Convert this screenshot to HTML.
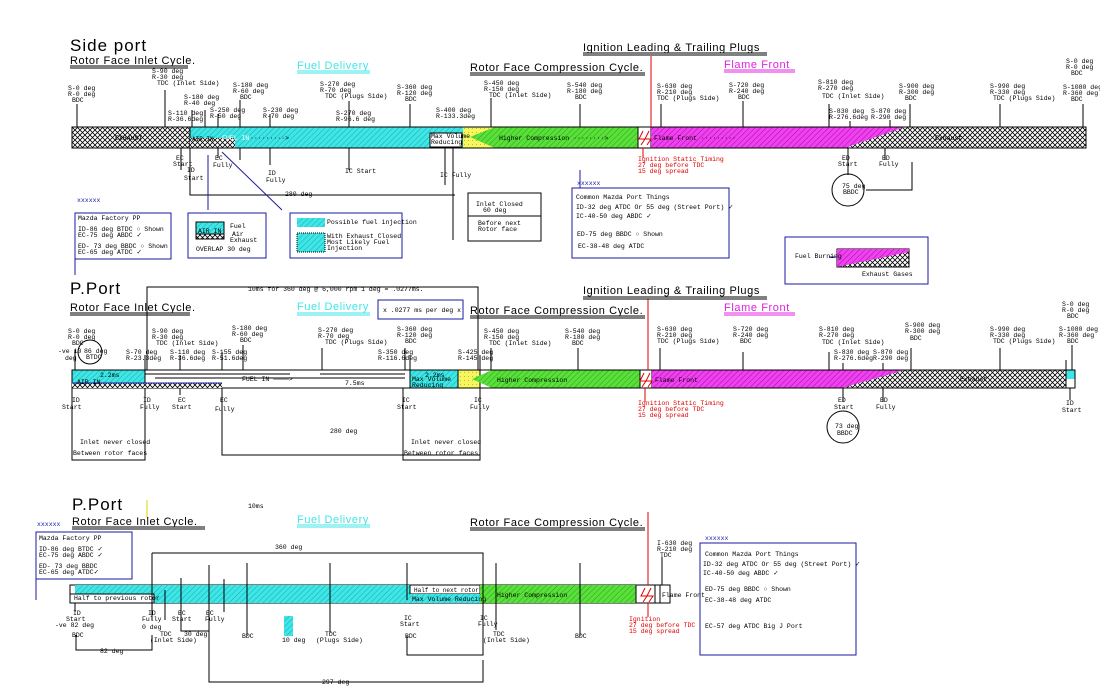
<!DOCTYPE html>
<html><head><meta charset="utf-8"><style>
html,body{margin:0;padding:0;background:#fff;width:1100px;height:700px;overflow:hidden}
svg text{font-family:"Liberation Mono",monospace;font-size:6.5px;fill:#000}
.t{font-family:"Liberation Sans",sans-serif;font-size:11px;letter-spacing:0.6px}
.big{font-family:"Liberation Sans",sans-serif;font-size:17px;letter-spacing:1px}
.r{fill:#e00000}
</style></head><body>
<svg width="1100" height="700" viewBox="0 0 1100 700" xmlns="http://www.w3.org/2000/svg">
<defs>
<pattern id="cy" width="4" height="4" patternUnits="userSpaceOnUse" patternTransform="rotate(45)"><rect width="4" height="4" fill="#3fe6e6"/><line x1="0" y1="0" x2="0" y2="4" stroke="#1aa8b0" stroke-width="1"/></pattern>
<pattern id="gr" width="4" height="4" patternUnits="userSpaceOnUse" patternTransform="rotate(45)"><rect width="4" height="4" fill="#5ae03a"/><line x1="0" y1="0" x2="0" y2="4" stroke="#2aa01a" stroke-width="1"/></pattern>
<pattern id="mg" width="4" height="4" patternUnits="userSpaceOnUse" patternTransform="rotate(45)"><rect width="4" height="4" fill="#f040f0"/><line x1="0" y1="0" x2="0" y2="4" stroke="#a010a0" stroke-width="1"/></pattern>
<pattern id="ye" width="4" height="4" patternUnits="userSpaceOnUse"><rect width="4" height="4" fill="#f6f660"/><rect width="1" height="1" fill="#c0c020"/></pattern>
<pattern id="ck" width="5" height="5" patternUnits="userSpaceOnUse"><rect width="5" height="5" fill="#fff"/><path d="M0 0L2.5 2.5L0 5M5 0L2.5 2.5L5 5" stroke="#000" stroke-width="0.8" fill="none"/></pattern>
</defs>
<g stroke="#000" stroke-width="1" fill="none">
<!-- ===== Section 1 ===== -->
<rect x="72" y="127" width="118" height="21" fill="url(#ck)"/>
<rect x="190" y="127" width="275" height="21" fill="url(#cy)"/>
<rect x="190" y="138" width="45" height="10" fill="url(#ck)" stroke="none"/>
<rect x="463" y="127" width="30" height="21" fill="url(#ye)" stroke="none"/>
<polygon points="495,127 470,137 495,148 638,148 638,127" fill="url(#gr)" stroke="none"/>
<rect x="638" y="127" width="13" height="21" fill="#fff"/>
<polygon points="651,127 905,127 845,148 651,148" fill="url(#mg)" stroke="none"/>
<polygon points="905,127 1086,127 1086,148 845,148" fill="url(#ck)" stroke="none"/>
<rect x="72" y="127" width="1014" height="21"/>
<rect x="430" y="133" width="32" height="14" fill="#fff"/>
<path d="M77 104V127M165 90V127M192 110V127M205 110V127M218 114V127M240 100V127M270 114V127M349 101V127M410 104V127M491 98V127M580 104V127M661 104V127M743 101V127M829 104V127M850 121V127M890 120V127M910 104V127M1000 104V127M1083 104V127"/>
<path d="M181 148V170M190 148V178M218 148V158M240 148V160M270 148V165M349 148V170M445 148V185M453 148V240M848 148V175M885 148V160M912 162V190H866"/>
<path d="M190 178V195H455"/>
<circle cx="848" cy="190" r="16"/>
<rect x="75" y="213" width="96" height="46" stroke="#1a1aa0"/>
<rect x="188" y="213" width="78" height="45" stroke="#1a1aa0"/>
<rect x="290" y="213" width="112" height="45" stroke="#1a1aa0"/>
<rect x="468" y="193" width="73" height="48"/>
<line x1="468" y1="216" x2="541" y2="216"/>
<rect x="572" y="188" width="157" height="70" stroke="#1a1aa0"/>
<rect x="785" y="237" width="143" height="47" stroke="#1a1aa0"/>
<rect x="196" y="222" width="28" height="14" fill="url(#cy)"/>
<rect x="196" y="234" width="28" height="5" fill="url(#ck)"/>
<rect x="297" y="218" width="28" height="9" fill="url(#cy)" stroke="none"/>
<rect x="297" y="233" width="28" height="19" fill="url(#cy)" stroke-dasharray="1,1"/>
<polygon points="837,249 909,249 909,267 837,267" fill="url(#ck)"/>
<polygon points="837,249 909,249 909,252 837,267" fill="url(#mg)" stroke="none"/>
<path d="M75 258V275M208 155V210M222 152L282 210M580 188V170M829 257H837" stroke="#1a1aa0"/>
<path d="M651 56V127M643 148V158" stroke="#e00000"/>
<path d="M643 131L639 139H645L641 145M649 131L645 139H651L647 145" stroke="#e00000"/>
<path d="M70 66H188M70 68H188M470 73H645M470 75H645M583 53H767M583 55H767"/>
<path d="M297 71H370M297 73H370" stroke="#3fe6e6"/>
<path d="M724 70H795M724 72H795" stroke="#e020e0"/>

<!-- ===== Section 2 ===== -->
<rect x="72" y="370" width="73" height="18" fill="url(#cy)"/>
<rect x="145" y="370" width="265" height="18" fill="#fff"/>
<rect x="410" y="370" width="48" height="18" fill="url(#cy)"/>
<rect x="458" y="370" width="22" height="18" fill="url(#ye)"/>
<polygon points="492,370 472,379 492,388 640,388 640,370" fill="url(#gr)" stroke="none"/>
<rect x="640" y="370" width="12" height="18" fill="#fff"/>
<polygon points="652,370 905,370 842,388 652,388" fill="url(#mg)" stroke="none"/>
<polygon points="905,370 1066,370 1066,388 842,388" fill="url(#ck)" stroke="none"/>
<rect x="1066" y="370" width="9" height="9" fill="#3fe6e6" stroke="none"/>
<rect x="72" y="370" width="1003" height="18"/>
<rect x="72" y="383" width="150" height="5" fill="url(#ck)" stroke="none"/>
<line x1="72" y1="383" x2="222" y2="383" stroke="#1a1aa0"/>
<path d="M145 374H250M155 378H405M228 374H290M320 374H405"/>
<path d="M75 370V350M145 370V355M180 370V355M222 370V352M243 370V345M322 370V348M405 370V348M410 370V355M480 370V355M491 370V348M578 370V348M660 370V348M743 370V352M829 370V352M843 370V363M883 370V363M911 370V348M1000 370V348M1072 370V345M1066 360V388"/>
<path d="M72 388V460H145V388M222 388V455H480M403 388V460H480V388M180 388V395M843 388V402M883 388V402M1070 388V400"/>
<circle cx="843" cy="427" r="16"/>
<circle cx="90" cy="352" r="12"/>
<path d="M147 370V287H478V370"/>
<rect x="378" y="300" width="85" height="19" stroke="#1a1aa0"/>
<path d="M648 299V370M645 388V402" stroke="#e00000"/>
<path d="M644 373L640 381H646L642 387M650 373L646 381H652L648 387" stroke="#e00000"/>
<path d="M70 313H190M70 315H190M470 316H645M470 318H645M583 297H767M583 299H767"/>
<path d="M297 313H370M297 315H370" stroke="#3fe6e6"/>
<path d="M724 313H795M724 315H795" stroke="#e020e0"/>

<!-- ===== Section 3 ===== -->
<rect x="70" y="585" width="600" height="18"/>
<rect x="75" y="585" width="335" height="18" fill="url(#cy)" stroke="none"/>
<rect x="70" y="594" width="84" height="9" fill="#fff"/>
<rect x="410" y="585" width="70" height="9" fill="#fff"/>
<rect x="410" y="594" width="70" height="9" fill="url(#cy)" stroke="none"/>
<rect x="480" y="585" width="156" height="18" fill="url(#gr)" stroke="none"/>
<rect x="636" y="585" width="19" height="18" fill="#fff"/>
<path d="M655 585V603M660 585V603"/>
<path d="M152 553H483V603M152 553V603M165 590V620M181 578V625M209 565V603M224 579V612M247 563V636M330 563V633M407 563V600M483 603V655H407V636M496 563V630M580 563V636M662 557V585M75 603V612M152 603V620M76 635V650H152V635M181 603V631H209M209 603V682H483V660"/>
<rect x="284" y="616" width="9" height="20" fill="url(#cy)" stroke="none"/>
<rect x="36" y="532" width="96" height="47" stroke="#1a1aa0"/>
<rect x="700" y="543" width="156" height="112" stroke="#1a1aa0"/>
<path d="M36 579V600" stroke="#1a1aa0"/>
<path d="M648 512V585M648 603V617" stroke="#e00000"/>
<path d="M645 588L641 596H647L643 602M651 588L647 596H653L649 602" stroke="#e00000"/>
<path d="M147 500V518" stroke="#e0d000"/>
<path d="M72 527H205M72 529H205M470 528H645M470 530H645"/>
<path d="M297 525H370M297 527H370" stroke="#3fe6e6"/>
</g>

<!-- ===== TEXT ===== -->
<text x="70" y="51" class="big">Side port</text>
<text x="70" y="64" class="t">Rotor Face Inlet Cycle.</text>
<text x="297" y="69" class="t" style="fill:#3fe6e6">Fuel Delivery</text>
<text x="470" y="71" class="t">Rotor Face Compression Cycle.</text>
<text x="583" y="51" class="t">Ignition Leading &amp; Trailing Plugs</text>
<text x="724" y="68" class="t" style="fill:#e020e0">Flame Front</text>
<text x="68" y="90">S-0 deg</text><text x="68" y="96">R-0 deg</text><text x="72" y="102">BDC</text>
<text x="152" y="73">S-90 deg</text><text x="152" y="79">R-30 deg</text><text x="157" y="85">TDC (Inlet Side)</text>
<text x="184" y="99">S-180 deg</text><text x="184" y="105">R-40 deg</text>
<text x="168" y="115">S-110 deg</text><text x="168" y="121">R-36.6deg</text>
<text x="210" y="112">S-250 deg</text><text x="210" y="118">R-50 deg</text>
<text x="233" y="87">S-180 deg</text><text x="233" y="93">R-60 deg</text><text x="240" y="99">BDC</text>
<text x="263" y="112">S-230 deg</text><text x="263" y="118">R-70 deg</text>
<text x="320" y="86">S-270 deg</text><text x="320" y="92">R-70 deg</text><text x="325" y="98">TDC (Plugs Side)</text>
<text x="336" y="115">S-270 deg</text><text x="336" y="121">R-96.6 deg</text>
<text x="397" y="89">S-360 deg</text><text x="397" y="95">R-120 deg</text><text x="405" y="101">BDC</text>
<text x="436" y="112">S-400 deg</text><text x="436" y="118">R-133.3deg</text>
<text x="484" y="85">S-450 deg</text><text x="484" y="91">R-150 deg</text><text x="489" y="97">TDC (Inlet Side)</text>
<text x="567" y="87">S-540 deg</text><text x="567" y="93">R-180 deg</text><text x="575" y="99">BDC</text>
<text x="657" y="88">S-630 deg</text><text x="657" y="94">R-210 deg</text><text x="657" y="100">TDC (Plugs Side)</text>
<text x="729" y="87">S-720 deg</text><text x="729" y="93">R-240 deg</text><text x="738" y="99">BDC</text>
<text x="818" y="84">S-810 deg</text><text x="818" y="90">R-270 deg</text><text x="822" y="98">TDC (Inlet Side)</text>
<text x="829" y="113">S-830 deg</text><text x="829" y="119">R-276.6deg</text>
<text x="871" y="113">S-870 deg</text><text x="871" y="119">R-290 deg</text>
<text x="899" y="88">S-900 deg</text><text x="899" y="94">R-300 deg</text><text x="905" y="100">BDC</text>
<text x="990" y="88">S-990 deg</text><text x="990" y="94">R-330 deg</text><text x="993" y="100">TDC (Plugs Side)</text>
<text x="1066" y="63">S-0 deg</text><text x="1066" y="69">R-0 deg</text><text x="1071" y="75">BDC</text>
<text x="1063" y="89">S-1080 deg</text><text x="1063" y="95">R-360 deg</text><text x="1071" y="101">BDC</text>
<text x="115" y="140">EXHAUST</text><text x="192" y="141" style="font-size:6px">AIR IN</text>
<text x="222" y="140" style="fill:#fff">FUEL IN</text><text x="250" y="140">·········&gt;</text>
<text x="431" y="138">Max Volume</text><text x="431" y="144">Reducing</text>
<text x="499" y="140">Higher Compression ········&gt;</text>
<text x="654" y="140">Flame Front ·········</text>
<text x="935" y="140">Exhaust</text>
<text x="176" y="160">EC</text><text x="173" y="166">Start</text>
<text x="187" y="172">ID</text><text x="184" y="180">Start</text>
<text x="215" y="160">EC</text><text x="213" y="167">Fully</text>
<text x="268" y="175">ID</text><text x="266" y="182">Fully</text>
<text x="345" y="173">IC Start</text>
<text x="440" y="177">IC Fully</text>
<text x="842" y="160">ED</text><text x="838" y="166">Start</text>
<text x="882" y="160">ED</text><text x="879" y="166">Fully</text>
<text x="842" y="188">75 deg</text><text x="843" y="194">BBDC</text>
<text class="r" x="638" y="161">Ignition Static Timing</text><text class="r" x="638" y="167">27 deg before TDC</text><text class="r" x="638" y="173">15 deg spread</text>
<text x="285" y="196">280 deg</text>
<text x="476" y="206">Inlet Closed</text><text x="483" y="212">60 deg</text>
<text x="478" y="225">Before next</text><text x="478" y="231">Rotor face</text>
<text x="77" y="202" style="fill:#1a1aa0">xxxxxx</text>
<text x="78" y="220">Mazda Factory PP</text>
<text x="78" y="231">ID-86 deg BTDC ○ Shown</text><text x="78" y="237">EC-75 deg ABDC ✓</text>
<text x="78" y="248">ED- 73 deg BBDC ○ Shown</text><text x="78" y="254">EC-65 deg ATDC ✓</text>
<text x="230" y="228">Fuel</text><text x="232" y="236">Air</text><text x="230" y="242">Exhaust</text>
<text x="198" y="233">AIR IN</text>
<text x="196" y="251">OVERLAP  30 deg</text>
<text x="327" y="224">Possible fuel injection</text>
<text x="327" y="238">With Exhaust Closed</text><text x="327" y="244">Most Likely Fuel</text><text x="327" y="250">Injection</text>
<text x="577" y="185" style="fill:#1a1aa0">xxxxxx</text>
<text x="576" y="199">Common Mazda Port Things</text>
<text x="576" y="209">ID-32 deg ATDC  Or 55 deg (Street Port) ✓</text>
<text x="576" y="218">IC-40-50 deg ABDC ✓</text>
<text x="577" y="236">ED-75 deg BBDC  ○    Shown</text>
<text x="578" y="248">EC-38-48 deg ATDC</text>
<text x="795" y="258">Fuel Burning</text>
<text x="862" y="276">Exhaust Gases</text>

<text x="70" y="294" class="big">P.Port</text>
<text x="70" y="311" class="t">Rotor Face Inlet Cycle.</text>
<text x="297" y="310" class="t" style="fill:#3fe6e6">Fuel Delivery</text>
<text x="470" y="314" class="t">Rotor Face Compression Cycle.</text>
<text x="583" y="294" class="t">Ignition Leading &amp; Trailing Plugs</text>
<text x="724" y="311" class="t" style="fill:#e020e0">Flame Front</text>
<text x="248" y="291">10ms for 360 deg @ 6,000 rpm   1 deg = .0277ms.</text>
<text x="383" y="312">x .0277 ms per deg x</text>
<text x="68" y="333">S-0 deg</text><text x="68" y="339">R-0 deg</text><text x="72" y="345">BDC</text>
<text x="58" y="353">-ve 10</text><text x="65" y="360">deg</text><text x="84" y="353">86 deg</text><text x="86" y="359">BTDC</text>
<text x="152" y="333">S-90 deg</text><text x="152" y="339">R-30 deg</text><text x="156" y="345">TDC (Inlet Side)</text>
<text x="126" y="354">S-70 deg</text><text x="126" y="360">R-23.3deg</text>
<text x="170" y="354">S-110 deg</text><text x="170" y="360">R-36.6deg</text>
<text x="212" y="354">S-155 deg</text><text x="212" y="360">R-51.6deg</text>
<text x="232" y="330">S-180 deg</text><text x="232" y="336">R-60 deg</text><text x="240" y="342">BDC</text>
<text x="318" y="332">S-270 deg</text><text x="318" y="338">R-70 deg</text><text x="325" y="344">TDC (Plugs Side)</text>
<text x="397" y="331">S-360 deg</text><text x="397" y="337">R-120 deg</text><text x="405" y="343">BDC</text>
<text x="378" y="354">S-350 deg</text><text x="378" y="360">R-116.6deg</text>
<text x="458" y="354">S-425 deg</text><text x="458" y="360">R-145 deg</text>
<text x="484" y="333">S-450 deg</text><text x="484" y="339">R-150 deg</text><text x="489" y="345">TDC (Inlet Side)</text>
<text x="565" y="333">S-540 deg</text><text x="565" y="339">R-180 deg</text><text x="572" y="345">BDC</text>
<text x="657" y="331">S-630 deg</text><text x="657" y="337">R-210 deg</text><text x="657" y="343">TDC (Plugs Side)</text>
<text x="733" y="331">S-720 deg</text><text x="733" y="337">R-240 deg</text><text x="740" y="343">BDC</text>
<text x="819" y="331">S-810 deg</text><text x="819" y="337">R-270 deg</text><text x="822" y="344">TDC (Inlet Side)</text>
<text x="834" y="354">S-830 deg</text><text x="834" y="360">R-276.6deg</text>
<text x="873" y="354">S-870 deg</text><text x="873" y="360">R-290 deg</text>
<text x="905" y="327">S-900 deg</text><text x="905" y="333">R-300 deg</text><text x="910" y="340">BDC</text>
<text x="990" y="331">S-990 deg</text><text x="990" y="337">R-330 deg</text><text x="993" y="343">TDC (Plugs Side)</text>
<text x="1062" y="306">S-0 deg</text><text x="1062" y="312">R-0 deg</text><text x="1067" y="318">BDC</text>
<text x="1059" y="331">S-1080 deg</text><text x="1059" y="337">R-360 deg</text><text x="1067" y="343">BDC</text>
<text x="100" y="377">2.2ms</text><text x="77" y="384">AIR IN</text>
<text x="242" y="381">FUEL IN ────&gt;</text><text x="345" y="385">7.5ms</text>
<text x="425" y="377">2.2ms</text><text x="412" y="381">Max Volume</text><text x="412" y="387">Reducing</text>
<text x="497" y="382">Higher Compression</text>
<text x="655" y="382">Flame Front</text><text x="960" y="381">Exhaust</text>
<text x="72" y="402">ID</text><text x="62" y="409">Start</text>
<text x="143" y="402">ID</text><text x="140" y="409">Fully</text>
<text x="178" y="402">EC</text><text x="172" y="409">Start</text>
<text x="220" y="402">EC</text><text x="215" y="411">Fully</text>
<text x="402" y="402">IC</text><text x="397" y="409">Start</text>
<text x="474" y="402">IC</text><text x="470" y="409">Fully</text>
<text x="838" y="402">ED</text><text x="834" y="409">Start</text>
<text x="880" y="402">ED</text><text x="876" y="409">Fully</text>
<text x="1066" y="405">ID</text><text x="1062" y="412">Start</text>
<text x="835" y="428">73 deg</text><text x="837" y="435">BBDC</text>
<text class="r" x="638" y="405">Ignition Static Timing</text><text class="r" x="638" y="411">27 deg before TDC</text><text class="r" x="638" y="417">15 deg spread</text>
<text x="330" y="433">280 deg</text>
<text x="80" y="444">Inlet never closed</text><text x="73" y="455">Between rotor faces</text>
<text x="411" y="444">Inlet never closed</text><text x="404" y="455">Between rotor faces</text>

<text x="72" y="510" class="big">P.Port</text>
<text x="248" y="508">10ms</text>
<text x="37" y="526" style="fill:#1a1aa0">xxxxxx</text>
<text x="72" y="525" class="t">Rotor Face Inlet Cycle.</text>
<text x="297" y="523" class="t" style="fill:#3fe6e6">Fuel Delivery</text>
<text x="470" y="526" class="t">Rotor Face Compression Cycle.</text>
<text x="39" y="540">Mazda Factory PP</text>
<text x="39" y="551">ID-86 deg BTDC ✓</text><text x="39" y="557">EC-75 deg ABDC ✓</text>
<text x="39" y="568">ED- 73 deg BBDC</text><text x="39" y="574">EC-65 deg ATDC✓</text>
<text x="275" y="549">360 deg</text>
<text x="657" y="545">I-630 deg</text><text x="657" y="551">R-210 deg</text><text x="660" y="557">TDC</text>
<text x="74" y="600">Half to previous rotor</text>
<text x="414" y="592" style="font-size:6px">Half to next rotor</text>
<text x="412" y="601">Max Volume Reducing</text>
<text x="497" y="597">Higher Compression</text>
<text x="662" y="597">Flame Front</text>
<text x="73" y="615">ID</text><text x="66" y="621">Start</text><text x="55" y="627">-ve 82 deg</text><text x="72" y="637">BDC</text>
<text x="148" y="615">ID</text><text x="142" y="621">Fully</text><text x="142" y="629">0 deg</text>
<text x="178" y="615">EC</text><text x="172" y="621">Start</text>
<text x="206" y="615">EC</text><text x="205" y="621">Fully</text>
<text x="160" y="636">TDC</text><text x="150" y="642">(Inlet Side)</text>
<text x="184" y="636">30 deg</text>
<text x="242" y="638">BDC</text>
<text x="282" y="642">10 deg</text>
<text x="325" y="636">TDC</text><text x="316" y="642">(Plugs Side)</text>
<text x="404" y="620">IC</text><text x="400" y="626">Start</text><text x="405" y="638">BDC</text>
<text x="480" y="620">IC</text><text x="478" y="626">Fully</text>
<text x="493" y="636">TDC</text><text x="483" y="642">(Inlet Side)</text>
<text x="575" y="638">BDC</text>
<text x="100" y="653">82 deg</text>
<text x="322" y="684">297 deg</text>
<text class="r" x="629" y="621">Ignition</text><text class="r" x="629" y="627">27 deg before TDC</text><text class="r" x="629" y="633">15 deg spread</text>
<text x="705" y="540" style="fill:#1a1aa0">xxxxxx</text>
<text x="705" y="556">Common Mazda Port Things</text>
<text x="703" y="566">ID-32 deg ATDC  Or 55 deg (Street Port) ✓</text>
<text x="703" y="575">IC-40-50 deg ABDC ✓</text>
<text x="705" y="591">ED-75 deg BBDC  ○    Shown</text>
<text x="705" y="602">EC-38-48 deg ATDC</text>
<text x="705" y="628">EC-57 deg ATDC Big J Port</text>
</svg>
</body></html>
